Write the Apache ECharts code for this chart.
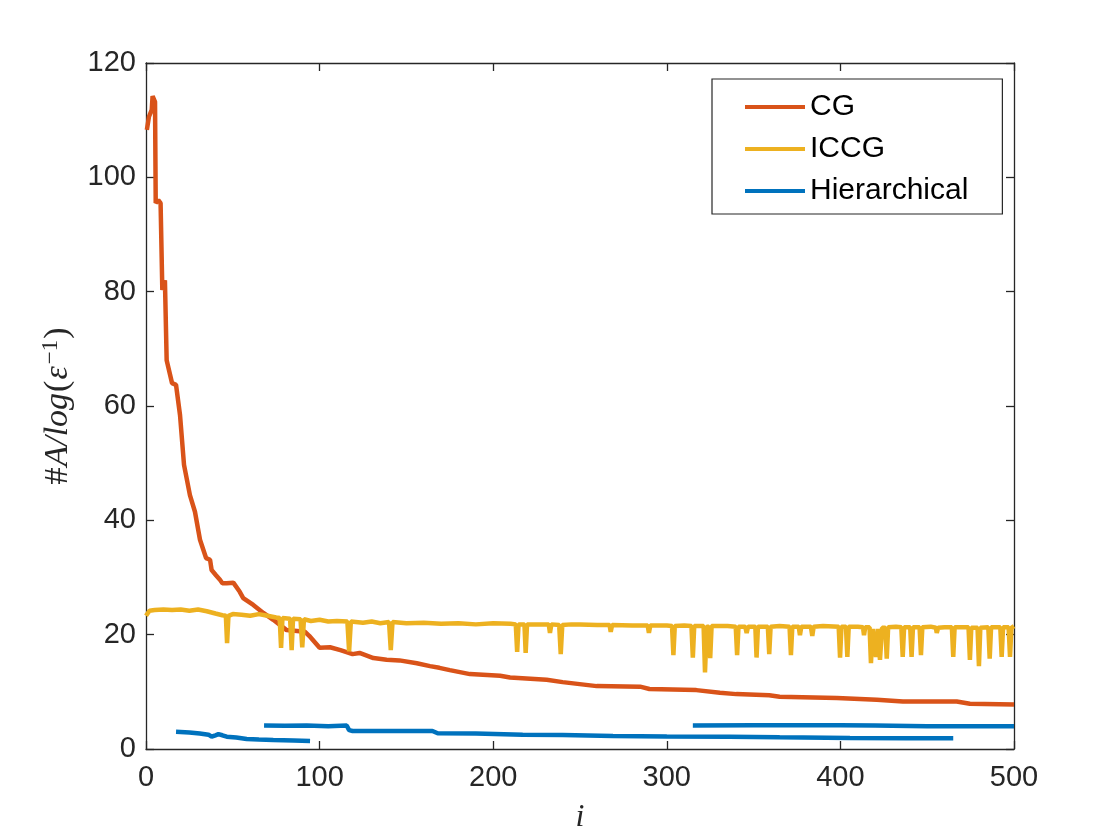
<!DOCTYPE html>
<html>
<head>
<meta charset="utf-8">
<script src="https://cdn.jsdelivr.net/npm/echarts@6/dist/echarts.min.js"></script>
<style>
  html, body { margin: 0; padding: 0; background: #fff; }
  #main { width: 1120px; height: 840px; }
</style>
</head>
<body>
<div id="main"></div>
<script>
// values, [i, #A/log(1/eps)]
const cgData = [
  [0.5, 108.3], [1.7, 110.6], [3.3, 111.8], [3.8, 114.2], [5.2, 113.2], [5.6, 95.5], [7.1, 96], [8.4, 95.5],
  [9.4, 80.3], [10.9, 82.0], [11.9, 68], [15, 64], [17.3, 63.7], [19.6, 58.4], [21.9, 49.7], [23, 48],
  [25.3, 44.4], [28.2, 41.5], [31.1, 36.6], [34.6, 33.4], [36.9, 33.1], [37.8, 31.3], [40.3, 30.4],
  [42.6, 29.6], [44, 29], [46.5, 29], [50.3, 29.1], [54, 27.5], [56, 26.4], [61.8, 25.2], [67.6, 23.8],
  [73.3, 22.6], [81, 20.8], [91.6, 20.5], [94, 19.8], [100, 17.7], [106, 17.8], [112, 17.3], [119, 16.6],
  [123, 16.8], [131, 15.9], [138.6, 15.6], [146, 15.5], [156, 15.0], [163.6, 14.5], [169, 14.2],
  [175, 13.8], [186.6, 13.1], [204, 12.8], [209.7, 12.5], [230.8, 12.1], [240, 11.7], [259.6, 11.0],
  [284.6, 10.9], [290, 10.5], [317, 10.3], [330.6, 9.85], [340, 9.6], [359, 9.4], [365, 9.15],
  [398, 8.9], [421, 8.6], [436, 8.3], [467, 8.3], [474.6, 7.9], [500, 7.8]
];

const iccgData = [
  [0, 23.3], [2, 24.2], [5, 24.3], [10, 24.4], [15, 24.3], [20, 24.4], [25, 24.2], [30, 24.4], [35, 24.1],
  [40, 23.7], [44, 23.4], [46, 23.3], [46.7, 18.5], [47.5, 23.3], [50, 23.6], [55, 23.5], [60, 23.3],
  [65, 23.6], [70, 23.3], [75, 23.0], [77, 22.9], [77.8, 17.7], [78.6, 22.9], [83, 22.8], [83.9, 17.3],
  [84.7, 22.8], [89, 22.7], [90, 17.8], [91, 22.7], [95, 22.4], [100, 22.6], [105, 22.3], [110, 22.4],
  [116, 22.3], [117, 17.1], [118, 22.3], [125, 22.1], [130, 22.3], [135, 22.0], [140, 22.2], [141, 17.3],
  [142, 22.2], [150, 22.0], [160, 22.1], [170, 21.9], [180, 22.0], [190, 21.8], [200, 22.0], [210, 21.9],
  [213, 21.8], [213.8, 17.0], [214.6, 21.8], [218, 21.8], [218.7, 16.8], [219.5, 21.8], [225, 21.8],
  [232, 21.8], [232.7, 20.3], [233.5, 21.8], [238, 21.7], [238.9, 16.6], [239.8, 21.7], [245, 21.8],
  [250, 21.8], [260, 21.7], [267, 21.7], [267.7, 20.5], [268.5, 21.7], [280, 21.6], [289, 21.6],
  [289.7, 20.3], [290.5, 21.6], [300, 21.6], [303, 21.5], [303.8, 16.4], [304.6, 21.5], [310, 21.6],
  [314.2, 21.5], [315, 16.0], [315.8, 21.5], [321.2, 21.5], [322, 13.4], [323, 21.4], [324.2, 21.4],
  [325, 15.9], [325.8, 21.5], [335, 21.5], [339.7, 21.4], [340.5, 16.4], [341.3, 21.4], [345.2, 21.4],
  [346, 20.3], [346.8, 21.4], [351, 21.4], [351.7, 16.0], [352.5, 21.4], [358.2, 21.4], [359, 16.6],
  [359.8, 21.4], [365, 21.5], [370.7, 21.4], [371.5, 16.4], [372.3, 21.4], [376, 21.4], [376.7, 19.9],
  [377.5, 21.4], [383, 21.4], [383.8, 19.8], [384.6, 21.4], [390, 21.5], [399, 21.4], [399.8, 16.0],
  [400.6, 21.4], [403.2, 21.4], [404, 16.1], [404.8, 21.4], [410, 21.4], [413, 21.3], [413.6, 19.9],
  [414.3, 21.3], [416.8, 21.3], [417.6, 15.0], [418.6, 21.0], [419.7, 21.2], [420.5, 16.1], [421.5, 21.0],
  [422.8, 15.6], [424, 21.2], [425.9, 21.2], [426.7, 15.8], [427.5, 21.3], [432, 21.4], [435.1, 21.3],
  [435.9, 16.1], [436.7, 21.3], [440.2, 21.3], [441, 16.1], [441.8, 21.3], [445.6, 21.3], [446.4, 16.4],
  [447.2, 21.3], [452, 21.4], [455, 21.2], [455.5, 20.3], [456.3, 21.2], [460, 21.3], [464.2, 21.3],
  [465, 16.1], [465.8, 21.3], [470, 21.3], [473.8, 21.3], [474.6, 15.6], [475.4, 21.2], [479, 21.2],
  [479.8, 14.5], [480.6, 21.2], [485.2, 21.3], [486, 15.8], [486.8, 21.3], [492.1, 21.3], [492.9, 16.1],
  [493.7, 21.3], [496.9, 21.3], [497.7, 16.1], [498.5, 21.2], [500, 21.5]
];

// hierarchical comes in three separate pieces
const hierA = [
  [17.3, 3.0], [25, 2.9], [31, 2.7], [36, 2.5], [37.8, 2.15], [40, 2.4], [41.7, 2.6], [44, 2.4],
  [46.5, 2.15], [52, 2.0], [58, 1.75], [65, 1.65], [73.3, 1.57], [85, 1.5], [94.5, 1.4]
];
const hierB = [
  [68, 4.1], [80, 4.05], [92.6, 4.1], [105, 4.0], [115.6, 4.1], [117, 3.3], [119, 3.15], [140, 3.15],
  [165, 3.15], [168, 2.75], [190, 2.7], [217, 2.5], [240, 2.45], [269, 2.27], [300, 2.2], [336, 2.15],
  [365, 2.04], [405.5, 1.92], [438, 1.9], [465, 1.86]
];
const hierC = [
  [315, 4.1], [350, 4.15], [400, 4.15], [420, 4.1], [450, 4.0], [500, 4.0]
];

const seriesNames = ['CG', 'ICCG', 'Hierarchical'];
const colors = ['#D95319', '#EDB120', '#0072BD'];

const axisColor = '#262626';
const tickFont = 'Liberation Sans, Arial, Helvetica, sans-serif';
const serifFont = 'Liberation Serif, DejaVu Serif, serif';

let chart = echarts.init(document.getElementById('main'));

function lineSeries(name, data, color) {
  return {
    name: name,
    type: 'line',
    data: data,
    showSymbol: false,
    symbol: 'none',
    clip: true,
    lineStyle: { color: color, width: 4.5 },
    itemStyle: { color: color },
    emphasis: { disabled: true }
  };
}

let option = {
  animation: false,
  backgroundColor: '#fff',
  grid: { left: 146, right: 106, top: 63, bottom: 91, containLabel: false },
  legend: {
    data: seriesNames,
    orient: 'vertical',
    left: 712,
    top: 79,
    padding: [13, 34, 8, 33],
    itemGap: 12,
    itemWidth: 60,
    itemHeight: 4,
    icon: 'rect',
    borderColor: axisColor,
    borderWidth: 1.2,
    backgroundColor: '#fff',
    textStyle: { color: '#000', fontSize: 30, fontFamily: tickFont, lineHeight: 30 }
  },
  xAxis: [
    {
      type: 'value',
      min: 0, max: 500, interval: 100,
      name: 'i',
      nameLocation: 'middle',
      nameGap: 53,
      nameTextStyle: { fontFamily: serifFont, fontStyle: 'italic', fontSize: 32, color: axisColor },
      axisLine: { show: true, lineStyle: { color: axisColor, width: 1.3 } },
      axisTick: { show: true, inside: true, length: 8, lineStyle: { color: axisColor, width: 1.3 } },
      axisLabel: { color: axisColor, fontSize: 29, fontFamily: tickFont, margin: 14 },
      splitLine: { show: false }
    },
    {
      type: 'value',
      position: 'top',
      min: 0, max: 500, interval: 100,
      axisLine: { show: true, onZero: false, lineStyle: { color: axisColor, width: 1.3 } },
      axisTick: { show: true, inside: true, length: 8, lineStyle: { color: axisColor, width: 1.3 } },
      axisLabel: { show: false },
      splitLine: { show: false }
    }
  ],
  yAxis: [
    {
      type: 'value',
      min: 0, max: 120, interval: 20,
      name: '{u|#}{it|A/log}{u|(}{it|ε}{sup|−1}{u|)}',
      nameLocation: 'middle',
      nameGap: 68,
      nameTextStyle: {
        color: axisColor,
        rich: {
          u: { fontFamily: serifFont, fontSize: 34, color: axisColor },
          it: { fontFamily: serifFont, fontStyle: 'italic', fontSize: 34, color: axisColor, padding: [0, 1, 0, 1] },
          sup: { fontFamily: serifFont, fontSize: 23, color: axisColor, verticalAlign: 'top', padding: [0, 1, 16, 1] }
        }
      },
      axisLine: { show: true, lineStyle: { color: axisColor, width: 1.3 } },
      axisTick: { show: true, inside: true, length: 8, lineStyle: { color: axisColor, width: 1.3 } },
      axisLabel: { color: axisColor, fontSize: 29, fontFamily: tickFont, margin: 10 },
      splitLine: { show: false }
    },
    {
      type: 'value',
      position: 'right',
      min: 0, max: 120, interval: 20,
      axisLine: { show: true, onZero: false, lineStyle: { color: axisColor, width: 1.3 } },
      axisTick: { show: true, inside: true, length: 8, lineStyle: { color: axisColor, width: 1.3 } },
      axisLabel: { show: false },
      splitLine: { show: false }
    }
  ],
  series: [
    lineSeries('CG', cgData, colors[0]),
    lineSeries('ICCG', iccgData, colors[1]),
    lineSeries('Hierarchical', hierA, colors[2]),
    lineSeries('Hierarchical', hierB, colors[2]),
    lineSeries('Hierarchical', hierC, colors[2])
  ]
};

if (option && typeof option === 'object') {
  chart.setOption(option, true);
}
</script>
</body>
</html>
